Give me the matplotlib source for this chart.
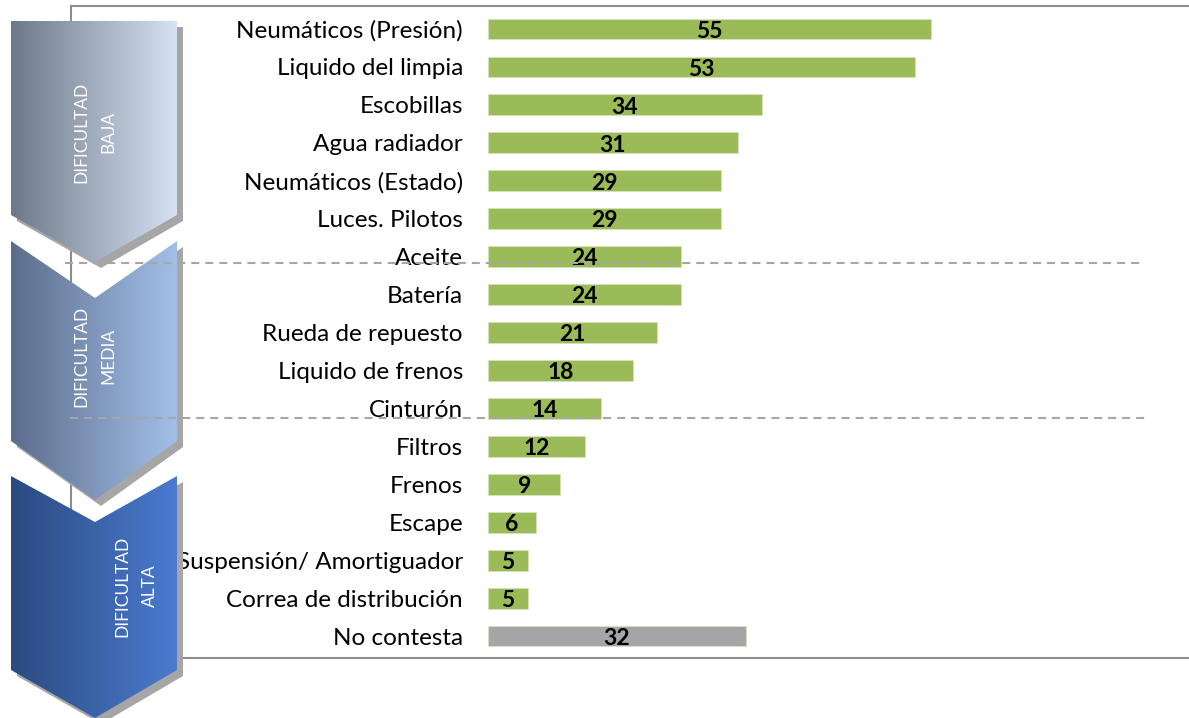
import matplotlib
matplotlib.use("Agg")
import matplotlib.pyplot as plt
import numpy as np
from matplotlib.patches import Polygon
from matplotlib.transforms import blended_transform_factory

plt.rcParams["font.family"] = ["Lato", "DejaVu Sans"]
plt.rcParams["lines.scale_dashes"] = False

# data
categorias = ["Neumáticos (Presión)", "Liquido del limpia", "Escobillas", "Agua radiador",
              "Neumáticos (Estado)", "Luces. Pilotos", "Aceite", "Batería", "Rueda de repuesto",
              "Liquido de frenos", "Cinturón", "Filtros", "Frenos", "Escape",
              "Suspensión/ Amortiguador", "Correa de distribución", "No contesta"]
valores = [55, 53, 34, 31, 29, 29, 24, 24, 21, 18, 14, 12, 9, 6, 5, 5, 32]
grupos = ["DIFICULTAD\nBAJA", "DIFICULTAD\nMEDIA", "DIFICULTAD\nALTA"]
limites_grupo = [6.17, 10.25]  # separators, in bar-index units

W, H = 1189, 718
fig = plt.figure(figsize=(W / 100, H / 100), dpi=100)

# bar axes placed in pixel terms
x0, x1, ytop, ybot = 488, 1187, 6, 658
px_unit, row0, row_step = 8.05, 29, 37.94
ax = fig.add_axes([x0 / W, (H - ybot) / H, (x1 - x0) / W, (ybot - ytop) / H])
ax.set_xlim(0, (x1 - x0) / px_unit)
ax.set_ylim((ybot - row0) / row_step, (ytop - row0) / row_step)

pos = np.arange(len(valores))
colores = ["#9bbb59"] * (len(valores) - 1) + ["#a5a5a5"]
ax.barh(pos, valores, height=0.55, color=colores, edgecolor="#d6e6bb", linewidth=0.5)
for p, v in zip(pos, valores):
    ax.text(v / 2, p + 0.06, str(v), ha="center", va="center", fontsize=16.5,
            fontweight="bold", color="black")
ax.set_yticks(pos, categorias, fontsize=17.5)
ax.set_xticks([])
ax.tick_params(axis="y", length=0, pad=18)
for s in ax.spines.values():
    s.set_visible(False)
ax.patch.set_visible(False)

# overlay in pixel coordinates for frame and chevrons
ov = fig.add_axes([0, 0, 1, 1], zorder=5)
ov.set_xlim(0, W)
ov.set_ylim(H, 0)
ov.axis("off")

frame_c = "#8c8c8c"
ov.plot([71, W], [6, 6], color=frame_c, lw=1.5, zorder=1)
ov.plot([71, 71], [6, 658], color=frame_c, lw=1.5, zorder=1)
ov.plot([71, W], [658, 658], color=frame_c, lw=1.5, zorder=1)

chevrons = [
    [(11, 21), (177, 21), (177, 215), (95, 262), (11, 215)],
    [(11, 241), (95, 298), (177, 241), (177, 441), (95, 500), (11, 441)],
    [(11, 476), (95, 522), (177, 476), (177, 670), (95, 718), (11, 670)],
]
grad = [("#6d7889", "#d6e2f3"), ("#5b6d8c", "#a3bfe8"), ("#2b4a80", "#4a7bd0")]
text_xy = [(95, 132), (95, 356), (136, 586)]

for pts, (c0, c1), (tx, ty), label in zip(chevrons, grad, text_xy, grupos):
    sh = Polygon([(x + 6, y + 6) for x, y in pts], closed=True, color="#a6a6a6",
                 lw=0, zorder=2)
    ov.add_patch(sh)
    poly = Polygon(pts, closed=True, facecolor="none", lw=0, zorder=3)
    ov.add_patch(poly)
    a = np.array(matplotlib.colors.to_rgb(c0))
    b = np.array(matplotlib.colors.to_rgb(c1))
    t = np.linspace(0, 1, 200)[None, :, None]
    img = a * (1 - t) + b * t
    xs = [p[0] for p in pts]
    ys = [p[1] for p in pts]
    im = ov.imshow(img, extent=(min(xs), max(xs), max(ys), min(ys)), aspect="auto",
                   zorder=3, interpolation="bilinear")
    im.set_clip_path(poly)
    ov.text(tx, ty, label, rotation=90, ha="center", va="center", color="white",
            fontsize=12.5, linespacing=1.85, zorder=4, multialignment="center")

# dashed separators between difficulty groups
tr = blended_transform_factory(ov.transData, ax.transData)
for yb, (xa, xb) in zip(limites_grupo, [(65, 1140), (70, 1145)]):
    ov.plot([xa, xb], [yb, yb], transform=tr, color="#a6a6a6", lw=1.5,
            dashes=(5.8, 4.3), zorder=6)
ov.set_xlim(0, W)
ov.set_ylim(H, 0)

fig.savefig("out.png", dpi=100)
